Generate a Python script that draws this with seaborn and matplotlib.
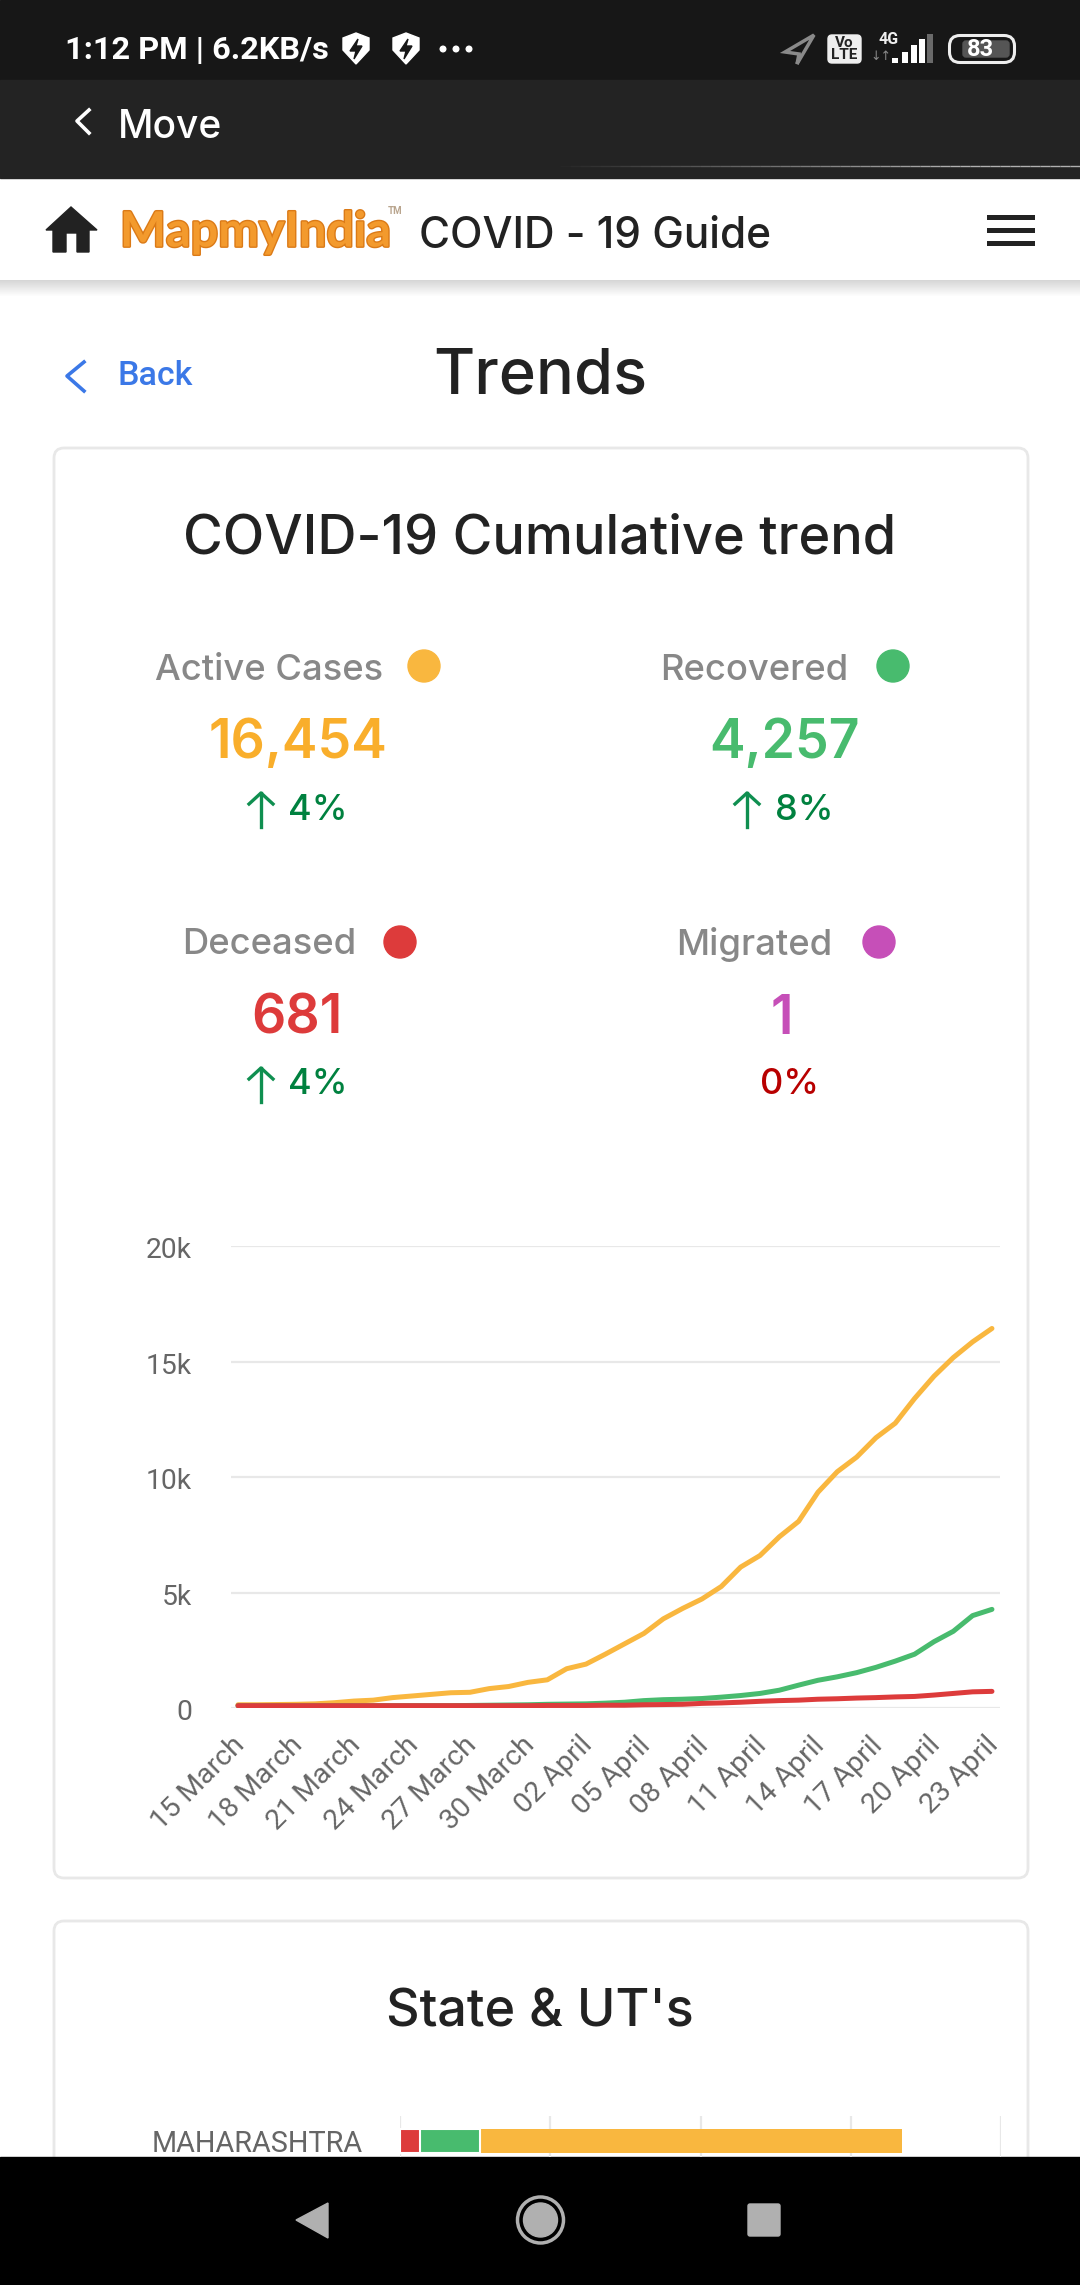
import pandas as pd
import matplotlib.pyplot as plt
import matplotlib.patches as mpatches
import matplotlib.patheffects as pe
from matplotlib.transforms import ScaledTranslation
import seaborn as sns

# Cumulative numbers, in thousands
dates = pd.date_range("2020-03-15", "2020-04-23")
active = [0.14, 0.14, 0.15, 0.16, 0.18, 0.23, 0.30, 0.34, 0.45, 0.52,
          0.59, 0.66, 0.68, 0.84, 0.93, 1.11, 1.22, 1.70, 1.90, 2.33,
          2.78, 3.23, 3.86, 4.31, 4.72, 5.26, 6.10, 6.60, 7.41, 8.08,
          9.34, 10.23, 10.86, 11.70, 12.33, 13.40, 14.36, 15.17, 15.85, 16.43]
recovered = [0.10, 0.10, 0.10, 0.10, 0.10, 0.10, 0.10, 0.10, 0.10, 0.10,
             0.10, 0.10, 0.11, 0.12, 0.13, 0.14, 0.16, 0.17, 0.18, 0.21,
             0.25, 0.32, 0.36, 0.38, 0.41, 0.47, 0.54, 0.63, 0.77, 0.99,
             1.20, 1.35, 1.53, 1.76, 2.03, 2.33, 2.87, 3.32, 4.00, 4.27]
deceased = [0.10, 0.10, 0.10, 0.10, 0.10, 0.10, 0.10, 0.10, 0.10, 0.10,
            0.10, 0.10, 0.10, 0.10, 0.10, 0.10, 0.11, 0.11, 0.11, 0.12,
            0.12, 0.14, 0.15, 0.16, 0.20, 0.22, 0.25, 0.29, 0.32, 0.34,
            0.38, 0.40, 0.43, 0.45, 0.48, 0.50, 0.56, 0.63, 0.70, 0.72]

df = pd.DataFrame({"date": dates, "Active": active, "Recovered": recovered, "Deceased": deceased})
df_long = df.melt(id_vars="date", var_name="status", value_name="cases")
df_long["cases"] = df_long["cases"] * 1000

yellow = "#F9B73F"
green = "#48BB6E"
red = "#DD3B3B"
purple = "#C64FB8"

fig = plt.figure(figsize=(10.8, 22.85), dpi=100, facecolor="white")

# Page furniture goes on one axes that counts in screen pixels
plt.axes([0, 0, 1, 1], zorder=0)
plt.xlim(0, 1080)
plt.ylim(2285, 0)
plt.axis("off")
page = plt.gca()

page.add_patch(mpatches.Rectangle((0, 0), 1080, 80, color="#171717"))
page.add_patch(mpatches.Rectangle((0, 80), 1080, 98, color="#232323"))
for x in range(550, 1080, 10):  # the thin line fades in from the left
    plt.plot([x, x + 10], [166, 166], color="#B0B0B0", linewidth=1, alpha=min(1, (x - 550) / 400), solid_capstyle="butt")
for i in range(16):  # soft shadow under the header
    page.add_patch(mpatches.Rectangle((0, 280 + i), 1080, 1, color="black", alpha=0.16 * (1 - i / 16), linewidth=0))

# Status bar
plt.text(65, 50, "1:12 PM | 6.2KB/s", color="white", fontsize=23.4, family="Roboto", weight="bold", va="center")
for x in [356, 406]:
    page.add_patch(mpatches.Polygon([(x - 13, 38), (x, 33), (x + 13, 38), (x + 13, 50), (x, 64), (x - 13, 50)], color="white"))
    page.add_patch(mpatches.Polygon([(x + 2, 39), (x - 6, 51), (x, 51), (x - 2, 59), (x + 6, 46), (x, 46)], color="#171717"))
for x in [443, 456, 469]:
    page.add_patch(mpatches.Circle((x, 49), 2.8, color="white"))
page.add_patch(mpatches.Polygon([(814, 35), (785, 52), (799, 54), (797, 64)], fill=False, edgecolor="#8A8A8A", linewidth=2.5))
page.add_patch(mpatches.FancyBboxPatch((832, 39), 25, 20, boxstyle="round,pad=4", color="#EEEEEE"))
plt.text(844.5, 43, "Vo", color="#222222", fontsize=11, family="Roboto", weight="bold", ha="center", va="center")
plt.text(844.5, 55, "LTE", color="#222222", fontsize=11, family="Roboto", weight="bold", ha="center", va="center")
plt.text(889, 39, "4G", color="#EEEEEE", fontsize=11.5, family="Roboto", weight="bold", ha="center", va="center")
plt.text(881, 57, "↓↑", color="#8A8A8A", fontsize=9, family="DejaVu Sans", ha="center", va="center")
bar_x = [892, 902, 911, 919, 927]
bar_top = [58, 52, 45, 39, 34]
bar_col = ["white", "white", "white", "white", "#6A6A6A"]
for x, top, col in zip(bar_x, bar_top, bar_col):
    page.add_patch(mpatches.Rectangle((x, top), 6, 63 - top, color=col, linewidth=0))
page.add_patch(mpatches.FancyBboxPatch((960, 46), 44, 6, boxstyle="round,pad=10.5", facecolor="none", edgecolor="#EEEEEE", linewidth=2.2))
page.add_patch(mpatches.FancyBboxPatch((966, 44), 40, 10, boxstyle="round,pad=3", color="#555555"))
plt.text(980, 49, "83", color="white", fontsize=17, family="Roboto", weight="bold", ha="center", va="center")

# Move bar
plt.plot([89, 77, 89], [110, 121, 133], color="white", linewidth=2.6)
plt.text(118, 128, "Move", color="white", fontsize=28, family="Inter", weight="medium", va="center")

# Header
page.add_patch(mpatches.Polygon([(71, 207), (97, 230), (89, 230), (89, 252), (77, 252), (77, 233), (66, 233), (66, 252), (53, 252), (53, 230), (46, 230)], color="#222222"))
plt.text(120, 232, "MapmyIndia", color="#F39A2D", fontsize=35, family="Lato", weight="bold", va="center",
         path_effects=[pe.withStroke(linewidth=2, foreground="#DB7A17")])
plt.text(388, 211, "TM", color="#B9A58E", fontsize=7, family="Roboto", weight="bold", va="center")
plt.text(419, 236, "COVID - 19 Guide", color="#222222", fontsize=30.5, family="Inter", weight="medium", va="center")
for y in [215, 228, 241]:
    page.add_patch(mpatches.Rectangle((987, y), 48, 5, color="#222222", linewidth=0))

# Back link and page title
plt.plot([84, 67, 84], [362, 376, 391], color="#3B78E7", linewidth=2.6)
plt.text(117, 376, "Back", color="#3B78E7", fontsize=24.5, family="Roboto", weight="medium", va="center")
plt.text(540, 377, "Trends", color="#222222", fontsize=45.5, family="Inter", weight="medium", ha="center", va="center")

# Cards
page.add_patch(mpatches.FancyBboxPatch((64, 458), 954, 1410, boxstyle="round,pad=10", facecolor="white", edgecolor="#E8E8E8", linewidth=2))
page.add_patch(mpatches.FancyBboxPatch((64, 1931), 954, 400, boxstyle="round,pad=10", facecolor="white", edgecolor="#E8E8E8", linewidth=2))
plt.text(540, 539, "COVID-19 Cumulative trend", color="#222222", fontsize=39, family="Inter", weight="medium", ha="center", va="center")
plt.text(540, 2013, "State & UT's", color="#222222", fontsize=37.5, family="Inter", weight="medium", ha="center", va="center")

# The four counters
labels = ["Active Cases", "Recovered", "Deceased", "Migrated"]
label_x = [269, 754, 269, 754]
dot_x = [424, 893, 400, 879]
value = ["16,454", "4,257", "681", "1"]
value_x = [298, 784, 297, 782]
colors = [yellow, green, red, purple]
rows = [0, 0, 275, 275]
percent = ["4%", "8%", "4%", "0%"]
percent_x = [318, 804, 318, 790]
arrow_x = [261, 747, 261, None]
for i in range(4):
    dy = rows[i]
    plt.text(label_x[i], 670 + dy, labels[i], color="#888888", fontsize=26.2, family="Inter", weight="medium", ha="center", va="center")
    page.add_patch(mpatches.Circle((dot_x[i], 666 + dy + 1 * (dy > 0)), 16, color=colors[i]))
    plt.text(value_x[i], 744 + dy, value[i], color=colors[i] if i else "#F9AE2B", fontsize=38.5, family="Inter", weight="semibold", ha="center", va="center")
    pct_color = "#00813F" if arrow_x[i] else "#B80000"
    plt.text(percent_x[i], 810 + dy, percent[i], color=pct_color, fontsize=26, family="Inter", weight="medium", ha="center", va="center")
    if arrow_x[i]:
        plt.plot([arrow_x[i]] * 2, [793 + dy, 827 + dy], color="#0F8F50", linewidth=2.4)
        plt.plot([arrow_x[i] - 12, arrow_x[i], arrow_x[i] + 12], [804 + dy, 793 + dy, 804 + dy], color="#0F8F50", linewidth=2.4)

# Bottom navigation bar
page.add_patch(mpatches.Rectangle((0, 2157), 1080, 128, color="black"))
page.add_patch(mpatches.Polygon([(296, 2220), (328, 2203), (328, 2238)], color="#B0B0B0"))
page.add_patch(mpatches.Circle((540.5, 2220), 23, facecolor="none", edgecolor="#B0B0B0", linewidth=2.5))
page.add_patch(mpatches.Circle((540.5, 2220), 17, color="#B0B0B0"))
page.add_patch(mpatches.FancyBboxPatch((750, 2206), 28, 28, boxstyle="round,pad=2", color="#B0B0B0"))

# Cumulative trend
plt.axes([231 / 1080, 1 - 1708 / 2285, 769 / 1080, 462 / 2285], zorder=1, facecolor="none")
sns.lineplot(
    data=df_long,
    x="date",
    y="cases",
    hue="status",
    palette={"Active": yellow, "Recovered": green, "Deceased": red},
    linewidth=3.6,
    legend=False,
    solid_capstyle="round"
)
plt.xlim(dates[0] - pd.Timedelta(hours=8.7), dates[-1] + pd.Timedelta(hours=10))
plt.ylim(0, 20000)
plt.xlabel("")
plt.ylabel("")
plt.xticks(dates[::3], dates[::3].strftime("%d %B"), rotation=45, ha="right", rotation_mode="anchor", fontsize=20.5, family="Roboto", color="#666666")
plt.yticks([0, 5000, 10000, 15000, 20000], ["0", "5k", "10k", "15k", "20k"], fontsize=20.3, family="Roboto", color="#666666")
plt.tick_params(axis="both", length=0)
plt.tick_params(axis="y", pad=28)
plt.tick_params(axis="x", pad=17)
for label in plt.gca().get_yticklabels():  # the labels sit a little under their lines
    label.set_transform(label.get_transform() + ScaledTranslation(0, -2 / 100, fig.dpi_scale_trans))
for label in plt.gca().get_xticklabels():
    label.set_transform(label.get_transform() + ScaledTranslation(-7 / 100, 0, fig.dpi_scale_trans))
plt.grid(True, axis="y", color="#E8E8E8", linewidth=1.6)
plt.gca().set_axisbelow(True)
sns.despine(left=True, bottom=True)

# State & UT's, only the first row is on screen
states = pd.DataFrame({"state": ["MAHARASHTRA"], "Deceased": [270], "Recovered": [790], "Active": [5620]})
plt.axes([400 / 1080, 1 - 2157 / 2285, 601 / 1080, 41 / 2285], zorder=1, facecolor="none")
states["total"] = states["Deceased"] + states["Recovered"] + states["Active"]
sns.barplot(data=states, x="total", y="state", color=yellow, width=0.8, saturation=1)
sns.barplot(data=states, x=states["Deceased"] + states["Recovered"], y="state", color=green, width=0.8, saturation=1, edgecolor="white", linewidth=1.5)
sns.barplot(data=states, x="Deceased", y="state", color=red, width=0.8, saturation=1, edgecolor="white", linewidth=1.5)
plt.xlim(0, 8000)
plt.ylim(0.533, -0.833)
plt.xlabel("")
plt.ylabel("")
plt.xticks([0, 2000, 4000, 6000, 8000], [])
plt.yticks(fontsize=20.8, family="Roboto", color="#666666")
plt.tick_params(axis="both", length=0)
plt.tick_params(axis="y", pad=27)
plt.grid(True, axis="x", color="#E8E8E8", linewidth=1.6)
plt.gca().set_axisbelow(True)
sns.despine(left=True, bottom=True)

plt.savefig("out.png", dpi=100)
